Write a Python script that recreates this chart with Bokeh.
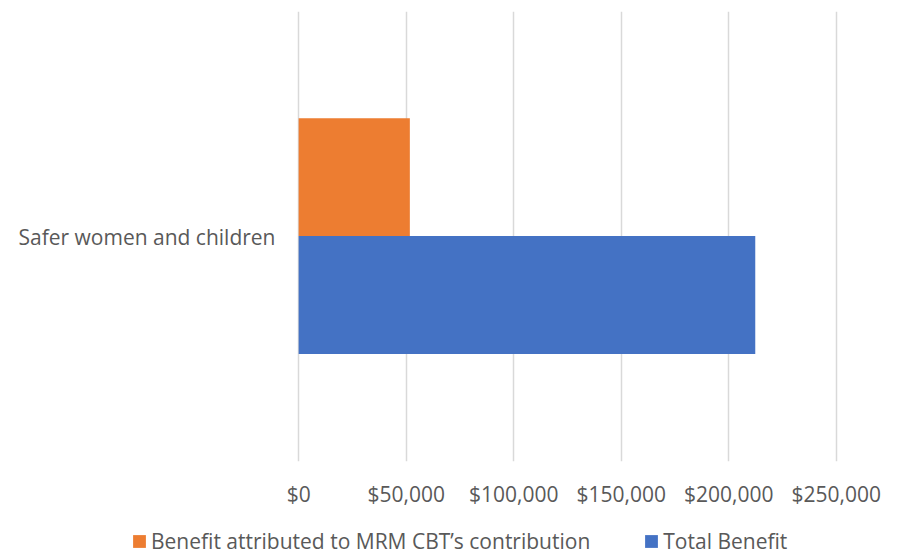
from bokeh.plotting import figure
from bokeh.layouts import column, row
from bokeh.models import (ColumnDataSource, FactorRange, Range1d, FixedTicker,
                          NumeralTickFormatter, Legend, LegendItem)
from bokeh.transform import dodge
from bokeh.embed import file_html
from bokeh.resources import INLINE

categories = ["Safer women and children"]
attributed = [51700]
total = [212300]
series_names = ["Benefit attributed to MRM CBT\u2019s contribution", "Total Benefit"]
series_colors = ["#ED7D31", "#4472C4"]
x_ticks = [0, 50000, 100000, 150000, 200000, 250000]

FONT = "Open Sans"
TXT = "#595959"

src = ColumnDataSource(dict(cat=categories, attributed=attributed, total=total))

p = figure(width=897, height=510, output_backend="svg", toolbar_location=None,
           y_range=FactorRange(factors=categories, range_padding=0),
           x_range=Range1d(-1000, 251000),
           min_border_left=296, min_border_right=59, min_border_top=11,
           min_border_bottom=49)
p.outline_line_color = None
p.background_fill_color = "white"
p.border_fill_color = "white"

p.hbar(y=dodge("cat", 0.132, range=p.y_range), right="attributed", left=0,
       height=0.262, source=src, fill_color=series_colors[0], line_color=None)
p.hbar(y=dodge("cat", -0.13, range=p.y_range), right="total", left=0,
       height=0.262, source=src, fill_color=series_colors[1], line_color=None)

p.xaxis.ticker = FixedTicker(ticks=x_ticks)
p.xaxis.formatter = NumeralTickFormatter(format="$0,0")
p.xaxis.axis_line_color = None
p.xaxis.major_tick_line_color = None
p.xaxis.minor_tick_line_color = None
p.xaxis.major_label_standoff = 12
p.xaxis.major_label_text_font = FONT
p.xaxis.major_label_text_font_size = "21px"
p.xaxis.major_label_text_color = TXT

p.yaxis.axis_line_color = None
p.yaxis.major_tick_line_color = None
p.yaxis.minor_tick_line_color = None
p.yaxis.major_label_standoff = 15
p.yaxis.major_label_text_font = FONT
p.yaxis.major_label_text_font_size = "21px"
p.yaxis.major_label_text_color = TXT

p.xgrid.ticker = FixedTicker(ticks=x_ticks)
p.xgrid.grid_line_color = "#D9D9D9"
p.xgrid.grid_line_width = 1.5
p.ygrid.grid_line_color = None

# legend strip below the chart (swatch renderers hold no drawable point)
nan = float("nan")
p2 = figure(width=897, height=41, output_backend="svg", toolbar_location=None,
            x_axis_type=None, y_axis_type=None,
            x_range=Range1d(0, 1), y_range=Range1d(0, 1),
            min_border=0, min_border_left=0, min_border_right=0)
p2.outline_line_color = None
p2.grid.grid_line_color = None
lr = [p2.hbar(y=[nan], right=[nan], left=0, height=1, fill_color=c, line_color=None)
      for c in series_colors]

legend = Legend(items=[LegendItem(label=n, renderers=[r])
                       for n, r in zip(series_names, lr)],
                orientation="horizontal", location=(131, -4),
                padding=0, margin=0, spacing=53,
                glyph_width=16, glyph_height=16, label_standoff=4,
                label_text_font=FONT, label_text_font_size="21px",
                label_text_color=TXT, label_height=13,
                border_line_color=None, background_fill_alpha=0)
p2.add_layout(legend, "center")

layout = column(p, row(p2), spacing=0)
open("out.html", "w").write(file_html(layout, INLINE))
